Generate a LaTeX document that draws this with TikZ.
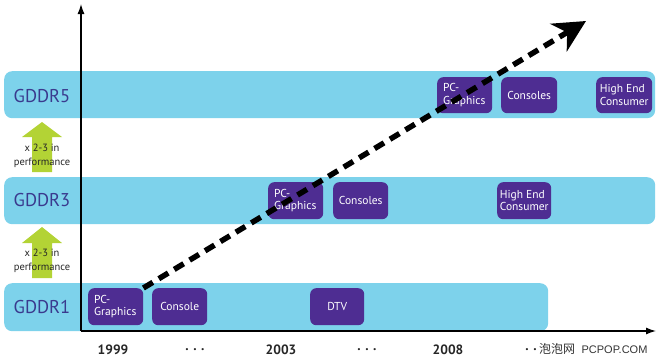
\documentclass[tikz,border=0pt]{standalone}
\usepackage{fontspec}
\setmainfont{PT Sans}
\newfontfamily\cjk{Noto Sans CJK SC}
\usetikzlibrary{arrows.meta}
\definecolor{bandblue}{HTML}{7DD2EB}
\definecolor{boxpurple}{HTML}{4E2D92}
\definecolor{labelblue}{HTML}{3A3A8E}
\definecolor{perfgreen}{HTML}{B3D335}
\tikzset{
  band/.style={fill=bandblue, draw=none, rounded corners=8pt, anchor=north west, inner sep=0pt},
  gddr/.style={text=labelblue, font=\fontsize{18.5}{18.5}\selectfont},
  appbox/.style={fill=boxpurple, draw=none, rounded corners=6pt, anchor=north west, inner sep=0pt},
  apptext/.style={text=white, align=left, font=\fontsize{11.5}{12.5}\selectfont, inner sep=0pt},
  perf/.style={font=\fontsize{10.5}{13.5}\selectfont, align=center, text=black!85},
  year/.style={font=\bfseries\fontsize{13.5}{13.5}\selectfont, text=black!85},
  axis/.style={line width=1.3pt, -{Latex[length=10pt,width=7pt]}},
  trend/.style={line width=5.5pt, dash pattern=on 11pt off 7pt, -{Stealth[length=32pt,width=32pt,inset=10pt]}}
}
\begin{document}
\begin{tikzpicture}[x=1pt,y=-1pt]
\useasboundingbox (0,0) rectangle (658,359);
% bands
\node[band, minimum width=651pt, minimum height=47pt] (b5) at (4,71) {};
\node[band, minimum width=651pt, minimum height=47pt] (b3) at (4,177) {};
\node[band, minimum width=544pt, minimum height=48pt] (b1) at (4,283) {};
% labels
\node[gddr] (l5) at (42,96) {GDDR5};
\node[gddr] (l3) at (42,200) {GDDR3};
\node[gddr] (l1) at (42,307) {GDDR1};
% green arrows
\fill[perfgreen] (32,172) -- (32,137) -- (22,137) -- (42,122) -- (62,137) -- (52,137) -- (52,172) -- cycle;
\fill[perfgreen] (32,278) -- (32,243) -- (22,243) -- (42,227) -- (62,243) -- (52,243) -- (52,278) -- cycle;
\node[perf] (t1) at (42,156) {x 2-3 in\\performance};
\node[perf] (t2) at (42,261) {x 2-3 in\\performance};
% axes
\coordinate (o) at (81,331);
\coordinate (ytop) at (81,4);
\coordinate (xend) at (656,331);
\draw[axis] (o) -- (ytop);
\draw[axis] (o) -- (xend);
% GDDR1 boxes
\node[appbox, minimum width=55pt, minimum height=37pt] (p1) at (88,288) {};
\node[apptext, anchor=west] (p1t) at (94,306.5) {PC-\\Graphics};
\node[appbox, minimum width=55pt, minimum height=37pt] (c1) at (152,288) {};
\node[apptext] (c1t) at (c1.center) {Console};
\node[appbox, minimum width=54pt, minimum height=37pt] (d1) at (310,288) {};
\node[apptext] (d1t) at (d1.center) {DTV};
% GDDR3 boxes
\node[appbox, minimum width=55pt, minimum height=37pt] (p3) at (268,182) {};
\node[apptext, anchor=west] (p3t) at (274,200.5) {PC-\\Graphics};
\node[appbox, minimum width=55pt, minimum height=37pt] (c3) at (333,182) {};
\node[apptext] (c3t) at (c3.center) {Consoles};
\node[appbox, minimum width=54pt, minimum height=37pt] (h3) at (497,182) {};
\node[apptext] (h3t) at (h3.center) {High End\\Consumer};
% GDDR5 boxes
\node[appbox, minimum width=55pt, minimum height=36pt] (p5) at (437,77) {};
\node[apptext, anchor=west] (p5t) at (443,95) {PC-\\Graphics};
\node[appbox, minimum width=56pt, minimum height=36pt] (c5) at (501,77) {};
\node[apptext] (c5t) at (c5.center) {Consoles};
\node[appbox, minimum width=56pt, minimum height=36pt] (h5) at (596,77) {};
\node[apptext] (h5t) at (h5.center) {High End\\Consumer};
% trend arrow
\coordinate (tip) at (586,21);
\draw[trend] (p1.north east) -- (tip);
% years
\node[year] (y1) at (113,350) {1999};
\node[year] (d1x) at (195,350) {. . .};
\node[year] (y2) at (281,350) {2003};
\node[year] (d2x) at (367,350) {. . .};
\node[year] (y3) at (448,350) {2008};
\node[year] (d3x) at (531,350) {. .};
\node[anchor=west, inner sep=0pt, font=\fontsize{12}{12}\selectfont, text=black!80] (wm) at (539,349) {{\cjk 泡泡网}\ \ {\fontspec{Liberation Sans}\fontsize{11}{11}\selectfont PCPOP.COM}};
\end{tikzpicture}
\end{document}
